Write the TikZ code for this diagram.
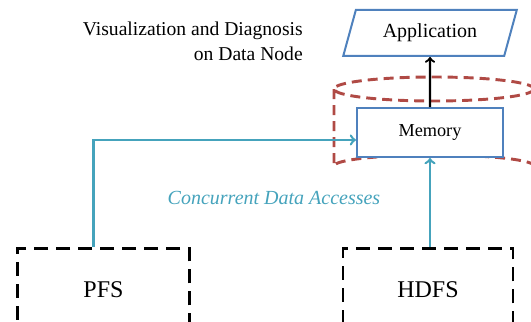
\documentclass[tikz,border=0pt]{standalone}
\usepackage{fontspec}
\setmainfont{Liberation Serif}
\usepackage{xcolor}
\usetikzlibrary{shapes.geometric}
\usetikzlibrary{arrows}
\definecolor{boxblue}{HTML}{4F81BD}
\definecolor{accteal}{HTML}{45A3BC}
\definecolor{cacheRed}{HTML}{B04A45}
\tikzstyle{flow} = [line width=1.9pt,->,>=to,accteal]
\tikzstyle{fsbox} = [draw,line width=2.2pt,dash pattern=on 10.5pt off 6pt,minimum width=129pt,minimum height=62pt]
\tikzstyle{blubox} = [draw=boxblue,line width=1.5pt]

\begin{document}
\begin{tikzpicture}[x=0.75pt,y=-0.75pt]
  \useasboundingbox (0,0) rectangle (531,321);
  \clip (0,0) rectangle (531,321);
  % cache cylinder around memory
  \draw[cacheRed,line width=2.2pt,dash pattern=on 7.5pt off 4.5pt]
    (434,89) ellipse [x radius=100,y radius=12]
    (334,89) -- (334,166) arc [start angle=180,end angle=360,x radius=100,y radius=11] -- (534,89);
  \node[blubox,trapezium,trapezium left angle=72,trapezium right angle=108,trapezium stretches=true,
    minimum width=130.5pt,minimum height=34.5pt,font=\fontsize{15}{18}\selectfont] (app) at (430,33) {Application};
  \node[blubox,fill=white,minimum width=109.5pt,minimum height=36.75pt,font=\fontsize{13.7}{16}\selectfont] (mem) at (430,132.5) {Memory};
  \node[anchor=north east,inner sep=0pt,align=right,font=\fontsize{14.7}{18.75}\selectfont] (title) at (303,21.5)
    {Visualization and Diagnosis\\on Data Node};
  \node[fsbox,font=\fontsize{18}{21}\selectfont] (pfs) at (103.5,290) {PFS};
  \node[fsbox,minimum width=127.5pt,font=\fontsize{18}{21}\selectfont] (hdfs) at (428,290) {HDFS};
  \node[accteal,font=\fontsize{15}{18}\selectfont\itshape] (acc) at (274,198) {Concurrent Data Accesses};
  \draw[line width=1.7pt,->,>=to] (mem.north) -- (app.south);
  \draw[flow] ([xshift=-7.5pt]pfs.north) |- ([yshift=-5.6pt]mem.west);
  \draw[flow] ([xshift=1.5pt]hdfs.north) -- (mem.south);
\end{tikzpicture}
\end{document}
